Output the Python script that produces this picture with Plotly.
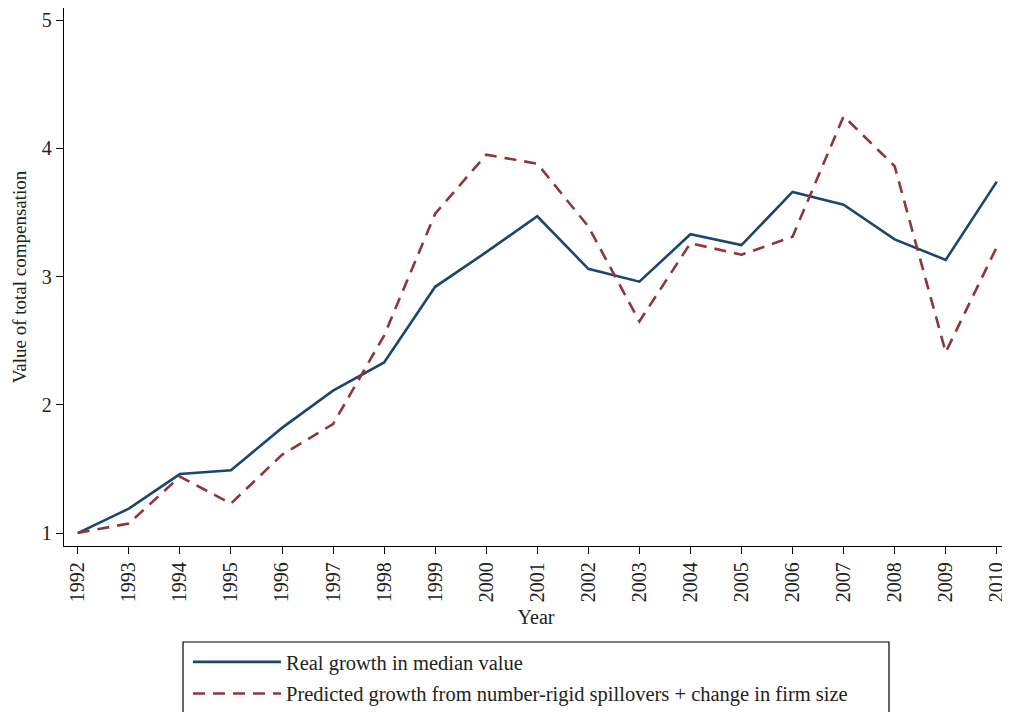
import plotly.graph_objects as go

years = list(range(1992, 2011))
real_growth = [1.00, 1.19, 1.46, 1.49, 1.82, 2.11, 2.33, 2.92, 3.19, 3.47, 3.06, 2.96,
               3.33, 3.245, 3.66, 3.56, 3.29, 3.13, 3.74]
predicted_growth = [1.00, 1.075, 1.44, 1.23, 1.61, 1.85, 2.54, 3.49, 3.95, 3.88, 3.39, 2.65,
                    3.26, 3.17, 3.31, 4.25, 3.86, 2.41, 3.23]
y_ticks = [1, 2, 3, 4, 5]

FONT = "Liberation Serif"
BLUE = "#1a476f"
RED = "#90353b"

fig = go.Figure()
fig.add_trace(go.Scatter(x=years, y=real_growth, mode="lines",
                         name="Real growth in median value", legendgroup="a",
                         line=dict(color=BLUE, width=2.6)))
fig.add_trace(go.Scatter(x=years, y=predicted_growth, mode="lines",
                         name="Predicted growth from number-rigid spillovers + change in firm size",
                         legendgroup="b",
                         line=dict(color=RED, width=2.6, dash="12px,8px")))

# page has an 8px body margin; figure coordinates are page coordinates minus 8
W, H = 1002, 704
L, R, T, B = 56, 2, 0, 166
PW, PH = W - L - R, H - T - B

fig.update_layout(
    width=W, height=H,
    margin=dict(l=L, r=R, t=T, b=B, autoexpand=False),
    paper_bgcolor="white", plot_bgcolor="white",
    font=dict(family=FONT, size=20, color="#222222"),
    showlegend=True,
    legend=dict(x=(180 - L) / PW, y=(PH - 634) / PH, xanchor="left", yanchor="top",
                bgcolor="rgba(0,0,0,0)", borderwidth=0,
                font=dict(family=FONT, size=20.5, color="#222222"),
                itemwidth=88, tracegroupgap=2),
    xaxis=dict(range=[1991.73, 2010.22], tickmode="array", tickvals=years,
               ticktext=[str(y) for y in years], tickangle=-90,
               ticks="outside", ticklen=7, tickwidth=1.3, tickcolor="black",
               showline=True, linecolor="black", linewidth=1.3,
               showgrid=False, zeroline=False, automargin=False,
               title=dict(text="Year", font=dict(family=FONT, size=20), standoff=8)),
    yaxis=dict(range=[0.899, 5.094], tickmode="array", tickvals=y_ticks,
               ticktext=[str(v) for v in y_ticks],
               ticks="outside", ticklen=7, tickwidth=1.3, tickcolor="black",
               showline=True, linecolor="black", linewidth=1.3,
               showgrid=False, zeroline=False, automargin=False,
               title=dict(text="Value of total compensation", font=dict(family=FONT, size=19), standoff=10)),
    shapes=[dict(type="rect", xref="paper", yref="paper",
                 x0=(175 - L) / PW, x1=(881 - L) / PW,
                 y0=(PH - 720) / PH, y1=(PH - 634) / PH,
                 line=dict(color="black", width=1.2), fillcolor="rgba(0,0,0,0)")],
)

fig.write_html("out.html")
